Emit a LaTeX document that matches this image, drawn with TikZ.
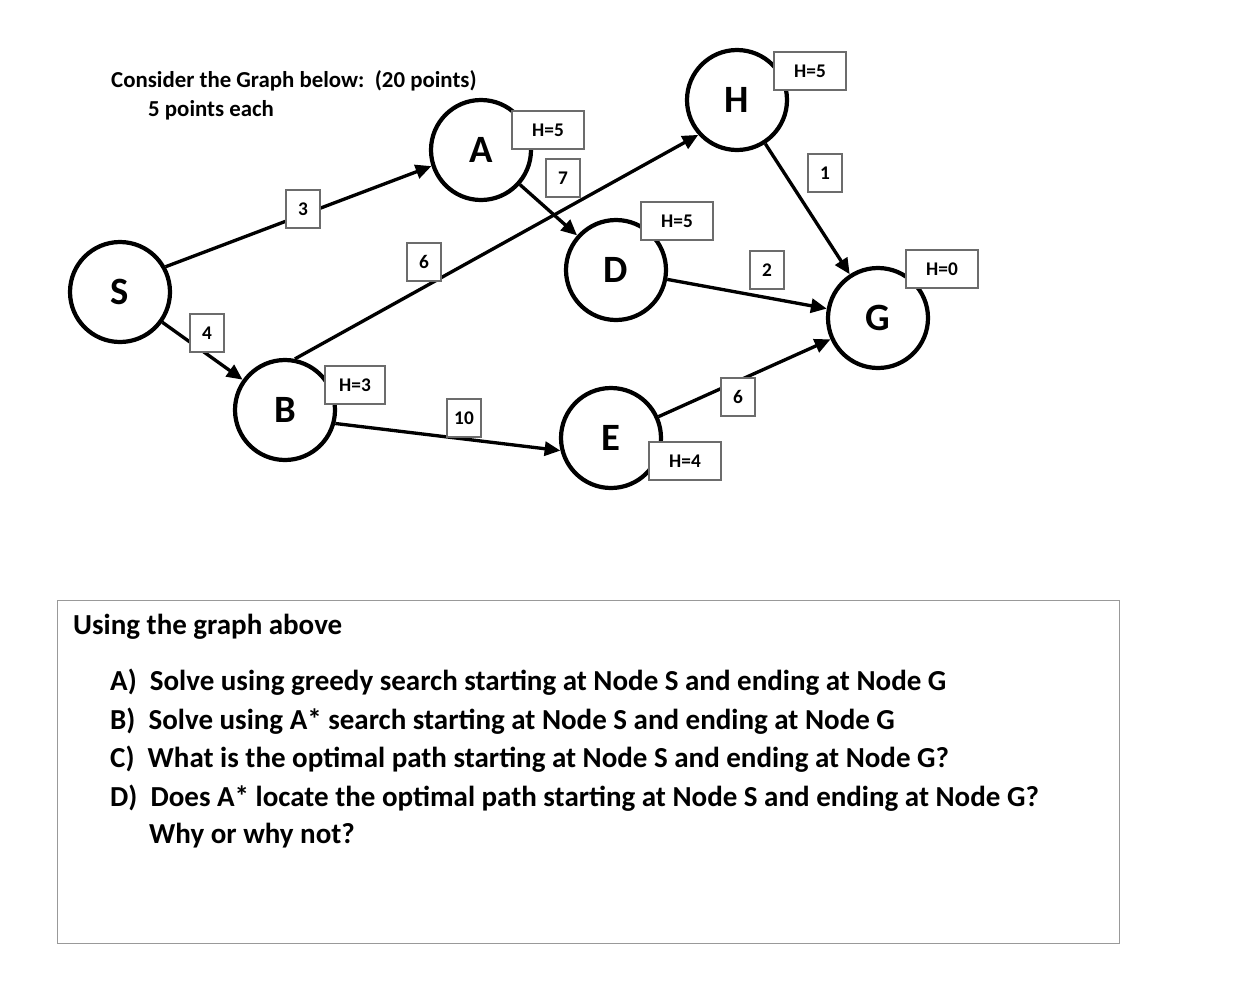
\documentclass[tikz,border=0pt]{standalone}
\usepackage{fontspec}
\setmainfont{Carlito}
\usetikzlibrary{arrows.meta}
\begin{document}
\begin{tikzpicture}[x=0.02cm,y=-0.02cm,
  vtx/.style={circle,draw,line width=2.4pt,minimum size=100*0.02cm,inner sep=0pt,font=\fontsize{22}{24}\selectfont\bfseries},
  edge/.style={line width=1.9pt,-{Triangle[length=9pt,width=8pt]}},
  lab/.style={draw=gray!85!black,fill=white,line width=0.6pt,font=\fontsize{11}{12}\selectfont\bfseries,minimum width=34*0.02cm,minimum height=38*0.02cm,inner sep=1pt},
  hlab/.style={lab,minimum width=72*0.02cm},
  qtext/.style={font=\fontsize{16.5}{18}\selectfont\bfseries,anchor=west}]
\useasboundingbox (0,0) rectangle (1257,994);
\node[font=\fontsize{13}{14}\selectfont\bfseries,anchor=west] (t1) at (105,81) {Consider the Graph below:\ \ (20 points)};
\node[font=\fontsize{13}{14}\selectfont\bfseries,anchor=west] (t2) at (142,110) {5 points each};
\node[vtx] (S) at (120,292) {S};
\node[vtx] (A) at (481,150) {A};
\node[vtx] (H) at (737,100) {H};
\node[vtx] (D) at (616,270) {D};
\node[vtx] (G) at (878,318) {G};
\node[vtx] (B) at (285,410) {B};
\node[vtx] (E) at (611,438) {E};
\draw[edge] (S.29) -- (A.198);
\draw[edge] (S) -- (B);
\draw[edge] (B.79) -- (H.222);
\draw[edge] (A) -- (D);
\draw[edge] (B.345) -- (E.194);
\draw[edge] (D) -- (G);
\draw[edge] (E) -- (G);
\draw[edge] (H) -- (G);
\node[lab] (l3) at (303,209) {3};
\node[lab] (l4) at (207,333) {4};
\node[lab] (l6a) at (424,262) {6};
\node[lab] (l7) at (563,178) {7};
\node[lab] (l10) at (464,418) {10};
\node[lab] (l2) at (767,270) {2};
\node[lab] (l6b) at (738,397) {6};
\node[lab] (l1) at (825,173) {1};
\node[hlab] (hA) at (548,130) {H=5};
\node[hlab] (hH) at (810,71) {H=5};
\node[hlab] (hD) at (677,221) {H=5};
\node[hlab] (hG) at (942,269) {H=0};
\node[hlab,minimum width=60*0.02cm] (hB) at (355,385) {H=3};
\node[hlab] (hE) at (685,461) {H=4};
\node[draw=gray!80,line width=0.7pt,minimum width=1062*0.02cm,minimum height=343*0.02cm,anchor=north west,inner sep=0pt] (qbox) at (57,600) {};
\node[qtext] (q0) at (67,627) {Using the graph above};
\node[qtext] (qa) at (104,682) {A)\ \ Solve using greedy search starting at Node S and ending at Node G};
\node[qtext] (qb) at (104,721) {B)\ \ Solve using A* search starting at Node S and ending at Node G};
\node[qtext] (qc) at (104,759) {C)\ \ What is the optimal path starting at Node S and ending at Node G?};
\node[qtext] (qd) at (104,798) {D)\ \ Does A* locate the optimal path starting at Node S and ending at Node G?};
\node[qtext] (qe) at (143,836) {Why or why not?};
\end{tikzpicture}
\end{document}
